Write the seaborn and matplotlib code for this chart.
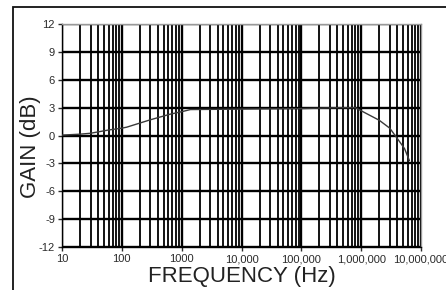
import matplotlib
matplotlib.use("Agg")
import matplotlib.pyplot as plt
import seaborn as sns
import pandas as pd
import numpy as np
from matplotlib.ticker import FixedLocator, LogLocator, NullFormatter
from matplotlib.patches import Rectangle

freq_hz = [10, 20, 30, 60, 100, 120, 300, 640, 1050, 1400, 10000, 100000, 400000, 800000,
           1200000, 2000000, 3000000, 4000000, 5300000, 6400000]
gain_db = [0.05, 0.15, 0.25, 0.6, 0.8, 0.9, 1.7, 2.3, 2.6, 2.8, 2.85, 2.9, 3.0, 3.0,
           2.4, 1.65, 0.8, -0.3, -1.4, -2.7]
y_ticks = [-12, -9, -6, -3, 0, 3, 6, 9, 12]
x_ticks = [10, 100, 1000, 10000, 100000, 1000000, 10000000]
x_labels = ["10", "100", "1000", "10,000", "100,000", "1,000,000", "10,000,000"]

sns.set_style("white")
plt.rcParams['font.family'] = ['Liberation Sans', 'DejaVu Sans']

df = pd.DataFrame({"freq": freq_hz, "gain": gain_db})

fig = plt.figure(figsize=(4.46, 2.90), dpi=100)
ax = fig.add_axes([0.139, 0.148, 0.805, 0.769])

sns.lineplot(data=df, x="freq", y="gain", ax=ax, color="#3a3a3a", lw=1.0, zorder=5)

ax.set_xscale("log")
ax.set_xlim(10, 1e7)
ax.set_ylim(-12, 12)
ax.set_yticks(y_ticks)
ax.set_yticklabels([str(v) for v in y_ticks])
ax.xaxis.set_major_locator(FixedLocator(x_ticks))
ax.set_xticklabels(x_labels)
ax.xaxis.set_minor_locator(LogLocator(base=10, subs=np.arange(2, 10)))
ax.xaxis.set_minor_formatter(NullFormatter())

ax.grid(which="major", axis="x", color="black", lw=1.7)
ax.grid(which="minor", axis="x", color="black", lw=1.3)
ax.grid(which="major", axis="y", color="black", lw=1.7)

ax.tick_params(axis="both", which="major", labelsize=8, colors="#2a2a2a", length=3, width=1,
               pad=2, left=True, bottom=True)
ax.tick_params(axis="x", which="minor", length=0)
for s in ax.spines.values():
    s.set_color("#999999")
    s.set_linewidth(1.0)
ax.spines["left"].set_color("black")
ax.spines["bottom"].set_color("black")

ax.set_xlabel("FREQUENCY (Hz)", fontsize=16, color="#222222")
ax.set_ylabel("GAIN (dB)", fontsize=16, color="#222222")
ax.xaxis.set_label_coords(0.5, -0.085)
ax.yaxis.set_label_coords(-0.058, 0.45)

fig.patches.append(Rectangle((13 / 446, -0.1), 1.2, (290 - 7) / 290 + 0.1,
                             transform=fig.transFigure, fill=False, edgecolor="#111111", lw=1.3))

fig.savefig("out.png", dpi=100)
